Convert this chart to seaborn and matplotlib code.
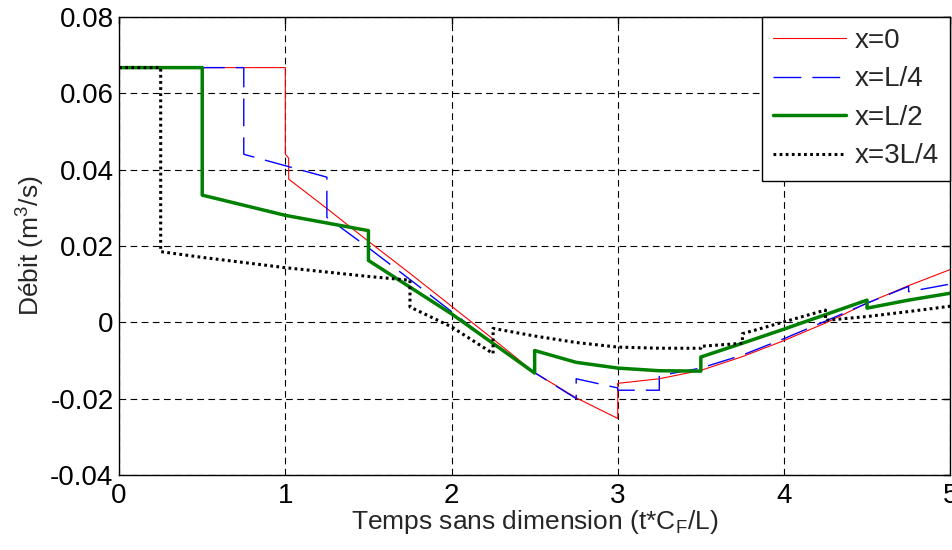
import seaborn as sns
import matplotlib.pyplot as plt
import pandas as pd

# valeurs
t_x0 = [0, 1.0, 1.0, 1.02, 1.02, 1.25, 1.5, 1.75, 2.0, 2.25, 2.5, 2.75, 3.0, 3.0,
        3.25, 3.5, 3.75, 4.0, 4.25, 4.5, 4.75, 5.0]
q_x0 = [0.0667, 0.0667, 0.0440, 0.0430, 0.0375, 0.0298, 0.0212, 0.0128, 0.0042, -0.0044,
        -0.0132, -0.0198, -0.0252, -0.0160, -0.0148, -0.0126, -0.0090, -0.0048, -0.0002,
        0.0050, 0.0096, 0.0138]

t_xL4 = [0, 0.75, 0.75, 1.25, 1.25, 1.5, 1.75, 2.0, 2.25, 2.5, 2.75, 2.75, 3.0, 3.0,
         3.25, 3.25, 3.5, 3.75, 4.0, 4.25, 4.5, 4.75, 4.75, 5.0]
q_xL4 = [0.0667, 0.0667, 0.0440, 0.0380, 0.0275, 0.0195, 0.0112, 0.0028, -0.0056, -0.0132,
         -0.0200, -0.0148, -0.0172, -0.0178, -0.0178, -0.0140, -0.0120, -0.0086, -0.0043,
         0.0003, 0.0050, 0.0094, 0.0080, 0.0100]

t_xL2 = [0, 0.5, 0.5, 1.0, 1.5, 1.5, 2.0, 2.5, 2.5, 2.75, 3.0, 3.25, 3.5, 3.5, 3.75,
         4.0, 4.25, 4.5, 4.5, 4.75, 5.0]
q_xL2 = [0.0667, 0.0667, 0.0333, 0.0280, 0.0240, 0.0162, 0.0022, -0.0133, -0.0074, -0.0105,
         -0.0120, -0.0127, -0.0128, -0.0091, -0.0055, -0.0018, 0.0020, 0.0058, 0.0037,
         0.0058, 0.0076]

t_x3L4 = [0, 0.25, 0.25, 0.5, 1.0, 1.5, 1.75, 1.75, 2.0, 2.25, 2.25, 2.5, 2.75, 3.0, 3.25,
          3.5, 3.5, 3.75, 3.75, 4.0, 4.25, 4.25, 4.5, 4.75, 5.0]
q_x3L4 = [0.0667, 0.0667, 0.0185, 0.0170, 0.0143, 0.0120, 0.0110, 0.0040, -0.0012, -0.0082,
          -0.0016, -0.0036, -0.0053, -0.0065, -0.0068, -0.0068, -0.0063, -0.0055, -0.0030,
          0.0001, 0.0032, 0.0005, 0.0015, 0.0028, 0.0042]

labels = ["x=0", "x=L/4", "x=L/2", "x=3L/4"]
xticks = [0, 1, 2, 3, 4, 5]
yticks = [-0.04, -0.02, 0, 0.02, 0.04, 0.06, 0.08]
ytick_labels = ["-0.04", "-0.02", "0", "0.02", "0.04", "0.06", "0.08"]

sns.set_style("white")
plt.rcParams['font.family'] = ['Liberation Sans', 'DejaVu Sans']
plt.rcParams['mathtext.fontset'] = 'custom'
plt.rcParams['mathtext.rm'] = 'Liberation Sans'
plt.rcParams['mathtext.it'] = 'Liberation Sans'

fig = plt.figure(figsize=(9.53, 5.5), dpi=100)
ax = fig.add_axes([0.125, 0.1364, 0.872, 0.833])

series = [(t_x0, q_x0), (t_xL4, q_xL4), (t_xL2, q_xL2), (t_x3L4, q_x3L4)]
styles = [
    dict(color="red", linewidth=0.8, linestyle="-"),
    dict(color="blue", linewidth=1.0, linestyle=(0, (20, 8))),
    dict(color="green", linewidth=2.5, linestyle="-"),
    dict(color="black", linewidth=2.2, linestyle=(0, (0.9, 1.1))),
]
for (t, q), lab, st in zip(series, labels, styles):
    df = pd.DataFrame({"t": t, "q": q})
    sns.lineplot(data=df, x="t", y="q", ax=ax, estimator=None, sort=False,
                 label=lab, **st)

ax.set_xlim(0, 5)
ax.set_ylim(-0.04, 0.08)
ax.set_xticks(xticks)
ax.set_yticks(yticks)
ax.set_yticklabels(ytick_labels)
ax.grid(True, color="black", linestyle=(0, (6, 4)), linewidth=0.8)
ax.tick_params(direction="in", length=5, width=1, top=True, right=True,
               labelsize=20, colors="black", pad=4)
ax.tick_params(axis="x", pad=6)
for s in ax.spines.values():
    s.set_color("black")
    s.set_linewidth(1.0)

ax.set_xlabel("Temps sans dimension (t*C$_F$/L)", fontsize=19, labelpad=-1)
ax.set_ylabel("Débit (m$^3$/s)", fontsize=19, labelpad=2)

leg = ax.legend(loc="upper right", fontsize=20, frameon=True, fancybox=False,
                framealpha=1, edgecolor="black", borderaxespad=0,
                handlelength=2.65, labelspacing=0.45, handletextpad=0.3,
                borderpad=0.4)
leg.get_frame().set_linewidth(1.0)

plt.savefig("out.png", dpi=100)
